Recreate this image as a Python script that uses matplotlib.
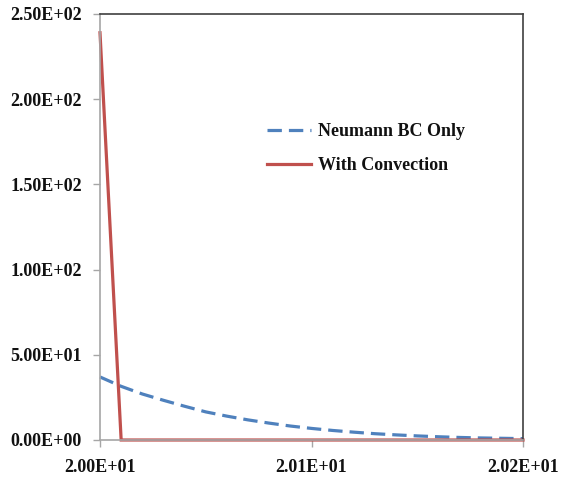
import matplotlib
matplotlib.use("Agg")
import matplotlib.pyplot as plt
from matplotlib.ticker import FuncFormatter

x_vals = [20.00, 20.01, 20.02, 20.03, 20.04, 20.05, 20.06, 20.07, 20.08, 20.09, 20.10,
          20.11, 20.12, 20.13, 20.14, 20.15, 20.16, 20.17, 20.18, 20.19, 20.20]
neumann = [37.0, 31.5, 27.0, 23.3, 19.8, 16.5, 14.0, 11.8, 9.9, 8.2, 6.8,
           5.6, 4.6, 3.7, 3.0, 2.4, 1.9, 1.5, 1.2, 1.0, 0.8]
convection = [239.0, 0, 0, 0, 0, 0, 0, 0, 0, 0, 0,
              0, 0, 0, 0, 0, 0, 0, 0, 0, 0]
series_labels = ["Neumann BC Only", "With Convection"]
y_ticks = [0, 50, 100, 150, 200, 250]
x_ticks = [20.0, 20.1, 20.2]

plt.rcParams['font.family'] = ['Liberation Serif', 'DejaVu Serif']
plt.rcParams['font.weight'] = 'bold'

fig = plt.figure(figsize=(5.61, 4.83), dpi=100)
ax = fig.add_axes([100/561, 1-440/483, 423/561, 426/483])

ax.plot(x_vals, neumann, color='#4F81BD', lw=2.3, dashes=(4.5, 2.2),
        label=series_labels[0], clip_on=False)
ax.plot(x_vals, convection, color='#C0504D', lw=2.3,
        label=series_labels[1], clip_on=False, solid_joinstyle='miter')

ax.set_xlim(20.0, 20.2)
ax.set_ylim(0, 250)
ax.set_xticks(x_ticks)
ax.set_yticks(y_ticks)
fmt = FuncFormatter(lambda v, p: f"{v:.2E}")
ax.xaxis.set_major_formatter(fmt)
ax.yaxis.set_major_formatter(fmt)

for s in ['left', 'bottom']:
    ax.spines[s].set_color('#A6A6A6')
    ax.spines[s].set_linewidth(1.2)
for s in ['top', 'right']:
    ax.spines[s].set_color('#404040')
    ax.spines[s].set_linewidth(1.2)

ax.tick_params(axis='y', direction='out', length=5, width=1, color='#A6A6A6',
               pad=8, labelsize=13)
ax.tick_params(axis='x', direction='out', length=5, width=1, color='#A6A6A6',
               pad=9, labelsize=13)
for lbl in ax.get_xticklabels() + ax.get_yticklabels():
    lbl.set_fontweight('bold')
    lbl.set_color('#111111')

leg = ax.legend(loc='upper left', bbox_to_anchor=(0.357, 0.782), frameon=False,
                handlelength=2.4, labelspacing=0.94, handletextpad=0.4,
                prop={'weight': 'bold', 'size': 13})
for t in leg.get_texts():
    t.set_color('#111111')

fig.savefig('out.png', dpi=100)
